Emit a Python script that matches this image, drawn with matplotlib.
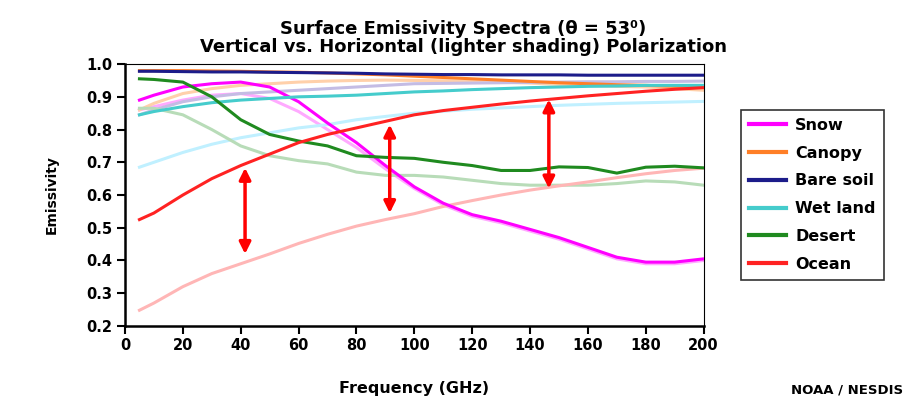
import matplotlib.pyplot as plt

plt.rcParams['font.family'] = ['DejaVu Sans']
plt.rcParams['font.weight'] = 'bold'

freq = [5, 10, 20, 30, 40, 50, 60, 70, 80, 90, 100,
        110, 120, 130, 140, 150, 160, 170, 180, 190, 200]

# vertical polarization
snow_v = [0.89, 0.905, 0.93, 0.94, 0.945, 0.93, 0.885, 0.82, 0.76, 0.69, 0.625,
          0.575, 0.54, 0.52, 0.495, 0.47, 0.44, 0.41, 0.395, 0.395, 0.405]
canopy_v = [0.98, 0.98, 0.98, 0.979, 0.978, 0.976, 0.975, 0.973, 0.97, 0.967, 0.963,
            0.959, 0.955, 0.951, 0.947, 0.943, 0.94, 0.937, 0.935, 0.932, 0.93]
soil_v = [0.978, 0.978, 0.977, 0.976, 0.976, 0.975, 0.974, 0.973, 0.972, 0.97, 0.969,
          0.968, 0.968, 0.967, 0.967, 0.967, 0.966, 0.966, 0.966, 0.966, 0.966]
wet_v = [0.845, 0.855, 0.87, 0.882, 0.89, 0.895, 0.9, 0.902, 0.905, 0.91, 0.915,
         0.918, 0.922, 0.925, 0.928, 0.93, 0.932, 0.933, 0.935, 0.935, 0.935]
desert_v = [0.955, 0.953, 0.945, 0.90, 0.83, 0.785, 0.765, 0.75, 0.72, 0.715, 0.712,
            0.70, 0.69, 0.675, 0.675, 0.686, 0.684, 0.667, 0.685, 0.688, 0.683]
ocean_v = [0.525, 0.545, 0.60, 0.65, 0.69, 0.725, 0.76, 0.785, 0.805, 0.825, 0.845,
           0.858, 0.868, 0.878, 0.887, 0.895, 0.903, 0.91, 0.917, 0.923, 0.928]

# horizontal polarization (lighter shading)
snow_h = [0.86, 0.87, 0.89, 0.905, 0.91, 0.895, 0.855, 0.80, 0.745, 0.68, 0.62,
          0.57, 0.535, 0.515, 0.49, 0.465, 0.435, 0.405, 0.39, 0.39, 0.40]
canopy_h = [0.86, 0.88, 0.91, 0.925, 0.935, 0.94, 0.945, 0.948, 0.95, 0.951, 0.95,
            0.949, 0.948, 0.945, 0.942, 0.938, 0.935, 0.932, 0.93, 0.925, 0.92]
soil_h = [0.845, 0.86, 0.885, 0.90, 0.91, 0.915, 0.92, 0.925, 0.93, 0.935, 0.94,
          0.941, 0.942, 0.943, 0.944, 0.945, 0.946, 0.946, 0.947, 0.947, 0.948]
wet_h = [0.685, 0.70, 0.73, 0.755, 0.775, 0.79, 0.805, 0.815, 0.83, 0.84, 0.85,
         0.856, 0.862, 0.866, 0.87, 0.874, 0.877, 0.88, 0.882, 0.884, 0.886]
desert_h = [0.865, 0.865, 0.845, 0.80, 0.75, 0.72, 0.705, 0.695, 0.67, 0.66, 0.66,
            0.655, 0.645, 0.635, 0.63, 0.63, 0.63, 0.635, 0.643, 0.64, 0.63]
ocean_h = [0.248, 0.27, 0.32, 0.36, 0.39, 0.42, 0.452, 0.48, 0.505, 0.525, 0.543,
           0.565, 0.583, 0.60, 0.615, 0.628, 0.64, 0.653, 0.665, 0.675, 0.682]

labels = ["Snow", "Canopy", "Bare soil", "Wet land", "Desert", "Ocean"]
v_series = [snow_v, canopy_v, soil_v, wet_v, desert_v, ocean_v]
h_series = [snow_h, canopy_h, soil_h, wet_h, desert_h, ocean_h]
v_colors = ["#ff00ff", "#ff7f27", "#1c1c8a", "#45cccc", "#1f8a1f", "#ff2222"]
h_colors = ["#ffaaff", "#ffd0aa", "#c4bce4", "#c0f0ff", "#b8dcb8", "#ffb6b6"]

# double arrows: frequency, top, bottom
arrow_f = [41.5, 91.5, 146.5]
arrow_top = [0.683, 0.815, 0.892]
arrow_bot = [0.42, 0.545, 0.62]

fig = plt.figure(figsize=(9.07, 3.98), dpi=100)
ax = fig.add_axes([0.1378, 0.181, 0.638, 0.658])

for hs, c in zip(h_series, h_colors):
    ax.plot(freq, hs, color=c, lw=2.2, zorder=2)
handles = []
for vs, c, lab in zip(v_series, v_colors, labels):
    ln, = ax.plot(freq, vs, color=c, lw=2.2, zorder=3, label=lab)
    handles.append(ln)

for f, t, b in zip(arrow_f, arrow_top, arrow_bot):
    ax.annotate("", xy=(f, b), xytext=(f, t),
                arrowprops=dict(arrowstyle="<|-|>", color="red", lw=2.5,
                                mutation_scale=17, shrinkA=0, shrinkB=0),
                zorder=5)

ax.set_xlim(0, 200)
ax.set_ylim(0.2, 1.0)
ax.set_xticks(range(0, 201, 20))
ax.set_yticks([0.2, 0.3, 0.4, 0.5, 0.6, 0.7, 0.8, 0.9, 1.0])
ax.set_yticklabels(["0.2", "0.3", "0.4", "0.5", "0.6", "0.7", "0.8", "0.9", "1.0"])
ax.tick_params(direction="out", width=1.5, length=6, labelsize=10.5, pad=3)
for s in ["left", "bottom"]:
    ax.spines[s].set_linewidth(1.8)
for s in ["top", "right"]:
    ax.spines[s].set_linewidth(0.8)

ax.set_xlabel("Frequency (GHz)", fontsize=11.5, fontweight="bold", labelpad=20)
ax.set_ylabel("Emissivity", fontsize=10, fontweight="bold", labelpad=20)

fig.text(0.511, 0.927, "Surface Emissivity Spectra (\u03b8 = 53\u2070)",
         ha="center", va="center", fontsize=13, fontweight="bold")
fig.text(0.511, 0.882, "Vertical vs. Horizontal (lighter shading) Polarization",
         ha="center", va="center", fontsize=13, fontweight="bold")
fig.text(0.996, 0.02, "NOAA / NESDIS", ha="right", va="center",
         fontsize=9.5, fontweight="bold")

leg = fig.legend(handles=handles, loc="upper left", bbox_to_anchor=(0.817, 0.724),
                 frameon=True, fancybox=False, edgecolor="black",
                 fontsize=11.5, handlelength=2.3, labelspacing=0.8,
                 borderpad=0.5, handletextpad=0.6, borderaxespad=0)
leg.get_frame().set_linewidth(1.2)
for ln in leg.get_lines():
    ln.set_linewidth(3)

fig.savefig("out.png", dpi=100)
